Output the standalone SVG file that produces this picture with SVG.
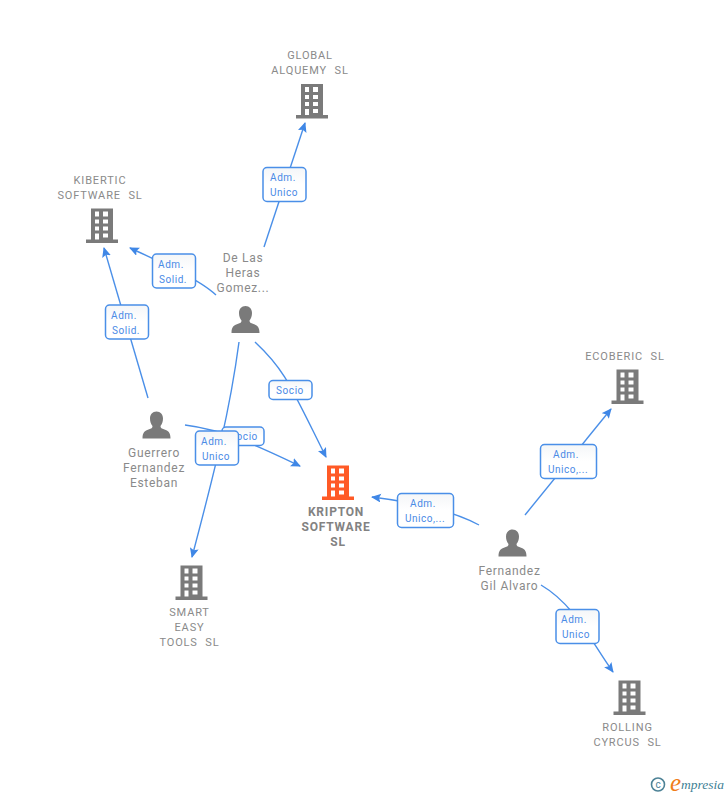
<svg xmlns="http://www.w3.org/2000/svg" width="728" height="795" viewBox="0 0 728 795">
<style>
text{font-family:Roboto,"Liberation Sans",sans-serif}
.n{font-size:12px;fill:#8a8a8a;text-anchor:middle;letter-spacing:.7px}
.c{font-size:11px;word-spacing:4px;letter-spacing:.85px}
.k{font-size:12px;font-weight:700;fill:#828282;text-anchor:middle;letter-spacing:.8px}
.l{font-size:10px;fill:#4a8ae6;text-anchor:middle;letter-spacing:.55px}
.b{fill:url(#g);stroke:#4a8fe8;stroke-width:1.5}
.e{fill:none;stroke:#4a8fe8;stroke-width:1.4}
</style>
<defs>
<linearGradient id="g" x1="0" y1="0" x2="0" y2="1"><stop offset="0" stop-color="#f4f6f8"/><stop offset=".5" stop-color="#fff"/></linearGradient>
<marker id="a" markerWidth="12" markerHeight="10" refX="9" refY="4.5" orient="auto" markerUnits="userSpaceOnUse"><path d="M0 0L10 4.5L0 9L2 4.5Z" fill="#3f87e6"/></marker>
<path id="bp" fill-rule="evenodd" d="M5 0H27V31H32V34.500H0V31H5ZM9 3V8H13V3ZM17 3V8H22V3ZM9 11V15H13V11ZM17 11V15H22V11ZM9 18V22H13V18ZM17 18V22H22V18ZM9 25V31H13V25ZM17 25V29H22V25Z"/>
<path id="pp" d="M14 0C18 0 20.500 3 20.500 7C20.500 10 19.500 12.500 18 14.500C18 16.500 19 17 22 18C25.500 19.300 28 20.500 28 27H0C0 20.500 2.500 19.300 6 18C9 17 10 16.500 10 14.500C8.500 12.500 7.500 10 7.500 7C7.500 3 10 0 14 0Z"/>
</defs>
<g id="connectors">
<path class="e" marker-end="url(#a)" d="M264 247L305 123"/>
<path class="e" marker-end="url(#a)" d="M216 295C200 280 165 264 130 248"/>
<path class="e" marker-end="url(#a)" d="M148 398L104 248"/>
<path class="e" marker-end="url(#a)" d="M255 342C285 370 290 385 326 457"/>
<path class="e" marker-end="url(#a)" d="M185 425C225 430 260 447 300 466"/>
<path class="e" marker-end="url(#a)" d="M239 342C230 410 215 470 192 557"/>
<path class="e" marker-end="url(#a)" d="M479 525C455 512 420 503 372 497"/>
<path class="e" marker-end="url(#a)" d="M525 515L611 409"/>
<path class="e" marker-end="url(#a)" d="M541 585C575 605 590 640 613 672"/>
</g>
<g id="global"><text class="n c" x="310" y="59">GLOBAL</text><text class="n c" x="310" y="74">ALQUEMY SL</text><use href="#bp" x="296" y="84" fill="#7a7a7a"/></g>
<g id="kibertic"><text class="n c" x="100" y="184">KIBERTIC</text><text class="n c" x="100" y="199">SOFTWARE SL</text><use href="#bp" x="86" y="208.500" fill="#7a7a7a"/></g>
<g id="ecoberic"><text class="n c" x="625" y="360">ECOBERIC SL</text><use href="#bp" x="611.500" y="369.500" fill="#7a7a7a"/></g>
<g id="smart"><use href="#bp" x="175.500" y="565.500" fill="#7a7a7a"/><text class="n c" x="189.500" y="616">SMART</text><text class="n c" x="189.500" y="631">EASY</text><text class="n c" x="189.500" y="646">TOOLS SL</text></g>
<g id="rolling"><use href="#bp" x="613.500" y="680.500" fill="#7a7a7a"/><text class="n c" x="627.500" y="731">ROLLING</text><text class="n c" x="627.500" y="746">CYRCUS SL</text></g>
<g id="kripton"><use href="#bp" x="322" y="465.500" fill="#ff5a26"/><text class="k" x="336" y="516">KRIPTON</text><text class="k" x="336" y="531">SOFTWARE</text><text class="k" x="338" y="546">SL</text></g>
<g id="delas"><text class="n" x="243" y="262">De Las</text><text class="n" x="243" y="277">Heras</text><text class="n" x="243" y="292">Gomez...</text><use href="#pp" x="231.500" y="306" fill="#7a7a7a"/></g>
<g id="guerrero"><use href="#pp" x="142.500" y="411.500" fill="#7a7a7a"/><text class="n" x="154" y="457">Guerrero</text><text class="n" x="154" y="472">Fernandez</text><text class="n" x="154" y="487">Esteban</text></g>
<g id="fernandez"><use href="#pp" x="498.500" y="529.500" fill="#7a7a7a"/><text class="n" x="509.500" y="575">Fernandez</text><text class="n" x="509.500" y="590">Gil Alvaro</text></g>
<g id="labels">
<rect class="b" x="263" y="167.500" width="43" height="34" rx="4"/><text class="l" x="283" y="181">Adm.</text><text class="l" x="284" y="196">Unico</text>
<rect class="b" x="152.500" y="254" width="43" height="34" rx="4"/><text class="l" x="171" y="268">Adm.</text><text class="l" x="173" y="283">Solid.</text>
<rect class="b" x="105.500" y="305" width="43" height="34" rx="4"/><text class="l" x="124" y="319">Adm.</text><text class="l" x="126" y="334">Solid.</text>
<rect class="b" x="269" y="380.500" width="43" height="19" rx="4"/><text class="l" x="290" y="394">Socio</text>
<rect class="b" x="222" y="427" width="42" height="18.500" rx="4"/><text class="l" x="244" y="440">Socio</text>
<rect class="b" x="195.500" y="431" width="43" height="34" rx="4"/><text class="l" x="214" y="445">Adm.</text><text class="l" x="216" y="460">Unico</text>
<rect class="b" x="397.500" y="493.500" width="56" height="34" rx="4"/><text class="l" x="423" y="507">Adm.</text><text class="l" x="425" y="522">Unico,...</text>
<rect class="b" x="540.500" y="444.500" width="56" height="34" rx="4"/><text class="l" x="566" y="458">Adm.</text><text class="l" x="568" y="473">Unico,...</text>
<rect class="b" x="556" y="609.500" width="43" height="34" rx="4"/><text class="l" x="574" y="623">Adm.</text><text class="l" x="576" y="638">Unico</text>
</g>
<g id="logo"><circle cx="658" cy="784.500" r="6.500" fill="none" stroke="#4d8296" stroke-width="1.600"/><text x="658" y="788" font-size="10" fill="#4d8296" text-anchor="middle">c</text><text x="670" y="791" font-size="25" font-style="italic" fill="#f07d1a" style="font-family:'Liberation Serif',serif">e</text><text x="681" y="789" font-size="13.500" font-style="italic" fill="#3f7f95" style="font-family:'Liberation Serif',serif">mpresia</text></g>
</svg>
